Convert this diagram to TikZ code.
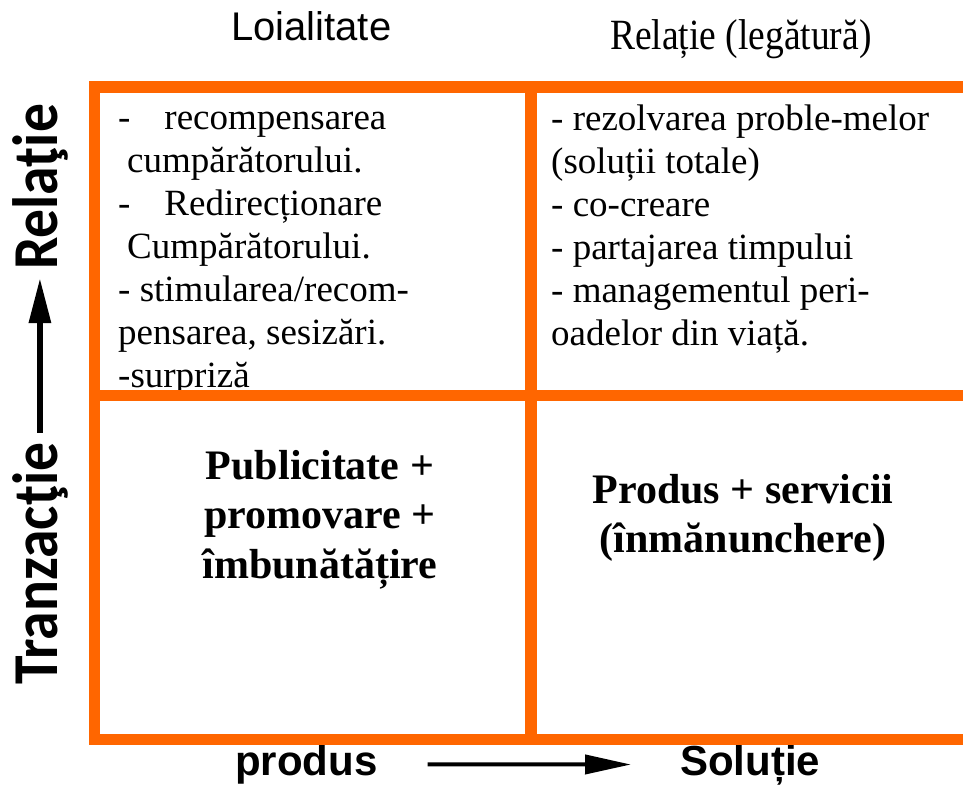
\documentclass[tikz,border=0pt]{standalone}
\usepackage{fontspec}
\setmainfont{Liberation Serif}
\newfontfamily\headsans{Liberation Sans}
\newfontfamily\axissans{Carlito}
\usetikzlibrary{arrows.meta}
\definecolor{gridorange}{HTML}{FF6600}

\begin{document}
\begin{tikzpicture}[x=1pt, y=-1pt,
  gridline/.style={draw=gridorange, line width=11.5pt},
  cell/.style={inner sep=0pt, align=left, anchor=north west, font=\fontsize{37}{43}\selectfont},
  boldcell/.style={inner sep=0pt, align=center, anchor=north, font=\fontsize{42}{49.5}\selectfont\bfseries},
  head/.style={inner sep=0pt, anchor=base west},
  axis/.style={inner sep=0pt, anchor=base west, rotate=90, font=\axissans\bfseries\fontsize{64}{68}\selectfont}]

\useasboundingbox[fill=white] (0,0) rectangle (963,787);

\node [head, font=\headsans\fontsize{40}{44}\selectfont] (loial) at (231,40.5) {Loialitate};
\node [head, font=\fontsize{37.5}{42}\selectfont] (relhead) at (610,49) {\scalebox{1}[1.15]{Relație (legătură)}};

\node [cell] (tl) at (118,98.9) {\strut-\hspace*{34pt}recompensarea\\\hspace*{9pt}cumpărătorului.\\-\hspace*{34pt}Redirecționare\\\hspace*{9pt}Cumpărătorului.\\- stimularea/recom-\\pensarea, sesizări.\\-surpriză};
\node [cell] (tr) at (551,100) {\strut- rezolvarea proble-melor\\(soluții totale)\\- co-creare\\- partajarea timpului\\- managementul peri-\\oadelor din viață.};
\node [boldcell] (bl) at (320,444.4) {\strut Publicitate +\\promovare +\\îmbunătățire};
\node [boldcell] (br) at (743,468.4) {\strut Produs + servicii\\(înmănunchere)};

\node [axis] (tranz) at (57,685) {\scalebox{0.9}[1]{Tranzacţie}};
\node [axis] (rel) at (57,270) {\scalebox{0.9}[1]{Relaţie}};
\draw [-{Triangle[length=45pt,width=21pt]}, line width=6pt, shorten <=10pt, shorten >=8pt] (tranz) to (rel);

\node [head, font=\headsans\bfseries\fontsize{42}{46}\selectfont] (prod) at (235,775) {produs};
\node [head, font=\headsans\bfseries\fontsize{42}{46}\selectfont] (sol) at (680,775) {Soluție};
\draw [-{Triangle[length=46pt,width=19pt]}, line width=4pt, shorten <=50pt, shorten >=49pt] (prod) to (sol);

\draw [gridline] (963,87) -- (94.5,87) -- (94.5,739.5) -- (963,739.5);
\draw [gridline] (94.5,395.5) -- (963,395.5);
\draw [gridline] (531,87) -- (531,739.5);
\end{tikzpicture}
\end{document}
